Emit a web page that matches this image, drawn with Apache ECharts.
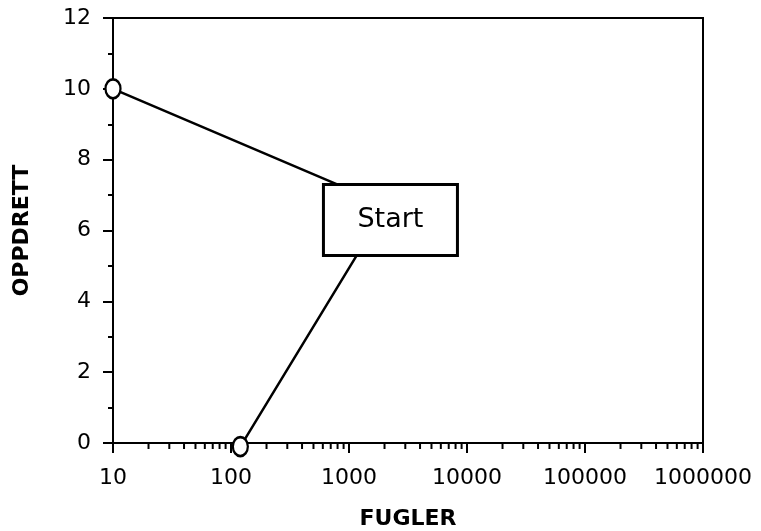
<!DOCTYPE html>
<html><head><meta charset="utf-8">
<script src="https://cdn.jsdelivr.net/npm/echarts@6/dist/echarts.min.js"></script>
<style>html,body{margin:0;padding:0;background:#fff}#c{width:761px;height:531px}</style>
</head><body><div id="c"></div>
<script>
// trajectory: end (10,10) -> Start -> end (120,0)
const fugler = [10, 2100, 120];
const oppdrett = [10, 6.7, -0.1];
const endFugler = [10, 120];
const endOppdrett = [10, -0.1];
const startLabelPos = [2245, 6.3];
const startText = 'Start';
const yTicks = [0, 2, 4, 6, 8, 10, 12];
const xTickLabels = ['10', '100', '1000', '10000', '100000', '1000000'];
const xTitle = 'FUGLER';
const yTitle = 'OPPDRETT';

const minorX = [];
for (let d = 10; d < 1000000; d *= 10) for (let k = 2; k <= 9; k++) minorX.push(d * k);

const font = 'DejaVu Sans, Liberation Sans, sans-serif';
const chart = echarts.init(document.getElementById('c'));
chart.setOption({
  animation: false,
  backgroundColor: '#fff',
  grid: {left: 113, right: 58, top: 18, bottom: 88, show: true, borderColor: '#000', borderWidth: 2,
    backgroundColor: 'transparent', containLabel: false, outerBoundsMode: 'none'},
  xAxis: {
    type: 'log', min: 10, max: 1000000, logBase: 10,
    name: xTitle, nameLocation: 'middle', nameGap: 65,
    nameTextStyle: {fontFamily: font, fontSize: 22, fontWeight: 'bold', color: '#000'},
    axisLine: {lineStyle: {color: '#000', width: 2}},
    axisTick: {show: true, length: 10, lineStyle: {color: '#000', width: 2}},
    axisLabel: {fontFamily: font, fontSize: 22, color: '#000', margin: 24,
      formatter: v => { const i = Math.round(Math.log10(v)) - 1; return xTickLabels[i] !== undefined ? xTickLabels[i] : ''; }},
    splitLine: {show: false}
  },
  yAxis: {
    type: 'value', min: 0, max: 12, interval: 2,
    name: yTitle, nameLocation: 'middle', nameGap: 80, nameRotate: 90,
    nameTextStyle: {fontFamily: font, fontSize: 22, fontWeight: 'bold', color: '#000'},
    axisLine: {lineStyle: {color: '#000', width: 2}},
    axisTick: {show: true, length: 10, lineStyle: {color: '#000', width: 2}},
    minorTick: {show: true, splitNumber: 2, length: 5, lineStyle: {color: '#000', width: 2}},
    axisLabel: {fontFamily: font, fontSize: 22, color: '#000', margin: 22,
      formatter: v => yTicks.includes(v) ? String(v) : ''},
    splitLine: {show: false}
  },
  series: [
    {
      type: 'line', data: fugler.map((x, i) => [x, oppdrett[i]]),
      symbol: 'none', clip: false, z: 2,
      lineStyle: {color: '#000', width: 2.5}
    },
    {
      type: 'scatter', data: endFugler.map((x, i) => [x, endOppdrett[i]]),
      symbol: 'circle', symbolSize: [15, 19], clip: false, z: 3,
      itemStyle: {color: '#fff', borderColor: '#000', borderWidth: 2.5, opacity: 1}
    },
    {
      type: 'scatter', data: [startLabelPos], symbolSize: 1, clip: false, z: 5,
      itemStyle: {color: '#fff', opacity: 1},
      label: {show: true, position: 'inside', formatter: startText, opacity: 1,
        fontFamily: font, fontSize: 27, color: '#000',
        backgroundColor: '#fff', borderColor: '#000', borderWidth: 3,
        width: 131, height: 68, align: 'center', verticalAlign: 'middle', lineHeight: 68}
    },
    {
      type: 'custom', data: minorX, clip: false, z: 4,
      renderItem: (params, api) => {
        const p = api.coord([api.value(0), 0]);
        return {type: 'line', shape: {x1: p[0], y1: p[1], x2: p[0], y2: p[1] + 6},
          style: {stroke: '#000', lineWidth: 2}};
      }
    }
  ]
});
</script></body></html>
